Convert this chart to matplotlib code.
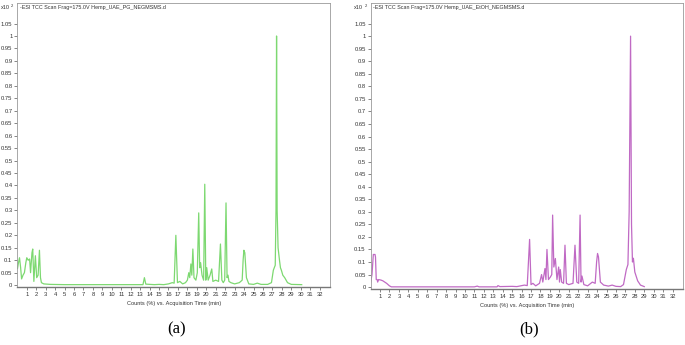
import numpy as np
import matplotlib
matplotlib.use("Agg")
import matplotlib.pyplot as plt
from matplotlib.ticker import FuncFormatter

plt.rcParams['font.family'] = ['Liberation Sans', 'DejaVu Sans']

# chromatogram (a): acquisition time (min) / counts (x10^2)
t_a = [0.02, 0.12, 0.23, 0.35, 0.45, 0.6, 0.75, 0.9, 1.0, 1.15, 1.3, 1.4, 1.55, 1.63,
       1.75, 1.91, 2.05, 2.2, 2.34, 2.45, 2.55, 2.8, 3.5, 5.0, 8.0, 11.0, 13.3, 13.45,
       13.6, 14.5, 15.0, 15.5, 16.0, 16.4, 16.6, 16.78, 16.95, 17.2, 17.5, 17.8, 18.0,
       18.15, 18.25, 18.37, 18.47, 18.58, 18.7, 18.9, 19.05, 19.2, 19.3, 19.4, 19.55,
       19.72, 19.84, 19.95, 20.05, 20.2, 20.4, 20.58, 20.7, 21.0, 21.3, 21.5, 21.65,
       21.8, 21.95, 22.09, 22.2, 22.3, 22.4, 22.6, 23.0, 23.5, 23.8, 23.9, 23.98, 24.08,
       24.25, 24.5, 25.0, 25.4, 25.8, 26.5, 26.9, 27.1, 27.3, 27.38, 27.44, 27.5, 27.6,
       27.75, 27.85, 27.95, 28.1, 28.3, 28.6, 29.0, 30.1]
y_a = [0.067, 0.09, 0.11, 0.07, 0.025, 0.04, 0.05, 0.09, 0.11, 0.1, 0.105, 0.05, 0.13,
       0.145, 0.015, 0.118, 0.03, 0.04, 0.14, 0.03, 0.01, 0.005, 0.003, 0.002, 0.002,
       0.002, 0.002, 0.03, 0.004, 0.002, 0.003, 0.002, 0.005, 0.01, 0.008, 0.2, 0.01,
       0.015, 0.005, 0.01, 0.02, 0.05, 0.03, 0.085, 0.04, 0.145, 0.03, 0.02, 0.05, 0.29,
       0.07, 0.09, 0.04, 0.02, 0.405, 0.02, 0.07, 0.02, 0.04, 0.065, 0.015, 0.02, 0.015,
       0.165, 0.02, 0.01, 0.02, 0.33, 0.03, 0.04, 0.015, 0.01, 0.005, 0.01, 0.02, 0.1,
       0.14, 0.13, 0.03, 0.005, 0.003, 0.008, 0.003, 0.003, 0.01, 0.06, 0.08, 0.3, 1.0,
       0.3, 0.15, 0.1, 0.07, 0.06, 0.04, 0.03, 0.01, 0.003, 0.002]

# chromatogram (b)
t_b = [0.01, 0.15, 0.29, 0.47, 0.52, 0.6, 0.7, 0.75, 0.85, 1.1, 1.3, 1.5, 1.7, 1.85,
       2.0, 2.2, 5.0, 11.0, 11.3, 11.5, 13.4, 13.5, 13.7, 15.0, 15.5, 16.3, 16.6, 16.85,
       17.0, 17.2, 17.5, 17.9, 18.12, 18.25, 18.48, 18.58, 18.69, 18.85, 19.05, 19.2,
       19.29, 19.42, 19.58, 19.75, 19.93, 20.02, 20.1, 20.25, 20.45, 20.6, 20.75, 21.0,
       21.45, 21.66, 21.85, 22.05, 22.2, 22.3, 22.4, 22.6, 23.0, 23.5, 23.8, 23.95, 24.05,
       24.15, 24.35, 24.7, 25.2, 25.6, 26.0, 26.5, 26.8, 27.1, 27.27, 27.4, 27.55, 27.65,
       27.75, 27.85, 28.0, 28.3, 28.6, 29.0]
y_b = [0.02, 0.05, 0.13, 0.13, 0.12, 0.03, 0.03, 0.02, 0.03, 0.028, 0.025, 0.02, 0.015,
       0.01, 0.005, 0.001, 0.001, 0.001, 0.004, 0.001, 0.001, 0.006, 0.002, 0.003, 0.002,
       0.008, 0.006, 0.19, 0.01, 0.015, 0.005, 0.015, 0.05, 0.02, 0.074, 0.03, 0.15, 0.03,
       0.04, 0.05, 0.287, 0.08, 0.114, 0.03, 0.08, 0.02, 0.07, 0.02, 0.015, 0.167, 0.015,
       0.01, 0.015, 0.167, 0.02, 0.015, 0.287, 0.02, 0.044, 0.01, 0.005, 0.02, 0.015,
       0.1, 0.134, 0.12, 0.02, 0.008, 0.004, 0.008, 0.003, 0.002, 0.01, 0.07, 0.09, 0.3,
       1.0, 0.25, 0.1, 0.115, 0.06, 0.025, 0.008, 0.002]

titles = ["-ESI TCC Scan Frag=175.0V Hemp_UAE_PG_NEGMSMS.d",
          "-ESI TCC Scan Frag=175.0V Hemp_UAE_EtOH_NEGMSMS.d"]
captions = ["(a)", "(b)"]
colors = ["#66d258", "#b550ba"]
yticks = [round(0.05 * i, 2) for i in range(22)]
xticks = list(range(1, 33))

fig = plt.figure(figsize=(6.85, 3.45), dpi=100)
boxes = [[0.0253, 0.167, 0.4565, 0.824], [0.541, 0.162, 0.456, 0.83]]
ylims = [(-0.009, 1.132), (-0.008, 1.133)]
data = [(t_a, y_a), (t_b, y_b)]

def fmt(v, pos):
    return ("%.2f" % v).rstrip("0").rstrip(".")

for i in range(2):
    ax = fig.add_axes(boxes[i])
    t, y = data[i]
    ax.plot(t, y, color=colors[i], lw=0.9, alpha=0.85)
    ax.set_xlim(0, 33.1)
    ax.set_ylim(*ylims[i])
    ax.set_xticks(xticks)
    ax.set_yticks(yticks)
    ax.yaxis.set_major_formatter(FuncFormatter(fmt))
    ax.tick_params(labelsize=4.2, length=2, width=0.5, colors="#555555", pad=1.5,
                   labelcolor="#333333")
    for s in ax.spines.values():
        s.set_color("#9a9a9a")
        s.set_linewidth(0.6)
    ax.spines["bottom"].set_color("#777777")
    ax.spines["bottom"].set_linewidth(1.0)
    ax.text(0.008, 0.993, titles[i], transform=ax.transAxes, fontsize=3.9,
            va="top", ha="left", color="#333333")
    ax.set_xlabel("Counts (%) vs. Acquisition Time (min)", fontsize=4.1,
                  labelpad=3, color="#333333")
    bx = boxes[i][0]
    fig.text(bx - 0.024, 0.978, "x10", fontsize=4.0, ha="left", va="center",
             color="#333333")
    fig.text(bx - 0.009, 0.984, "2", fontsize=3.0, ha="left", va="center",
             color="#333333")
    fig.text(bx + boxes[i][2] / 2 + 0.004, 0.045, captions[i], fontsize=12,
             family="Liberation Serif", ha="center", va="center")

fig.savefig("out.png", dpi=100)
